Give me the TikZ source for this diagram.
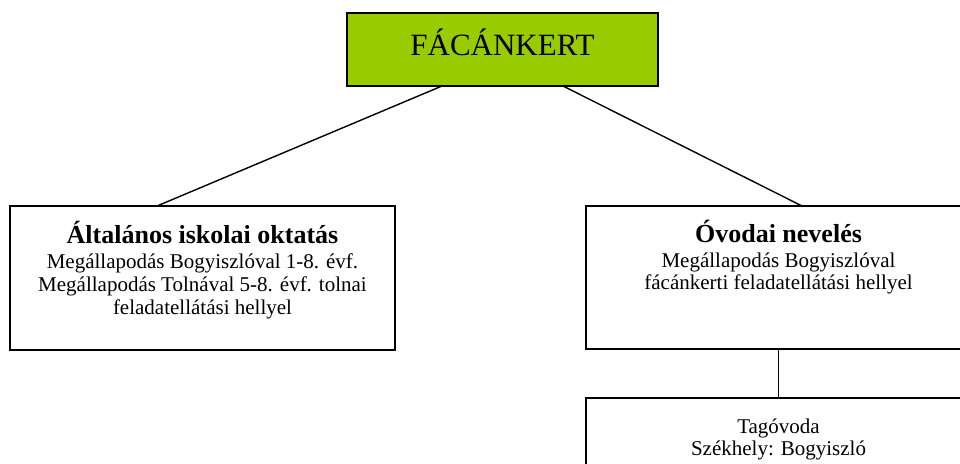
\documentclass[tikz,border=0pt]{standalone}
\usepackage{fontspec}
\setmainfont{Liberation Serif}
\definecolor{fcgreen}{RGB}{153,204,0}
\newcommand{\boxtext}[3]{\parbox[c][#2][t]{#1}{\centering #3}}
\begin{document}
\begin{tikzpicture}
  [
    x=1pt, y=-1pt,
    unitbox/.style={draw=black, line width=1.7pt, inner sep=0pt, outer sep=0pt},
    link/.style={line width=1.4pt}
  ]
  \useasboundingbox (0,0) rectangle (960,463);
  \clip (0,0) rectangle (960,463);
  % top
  \node [unitbox, fill=fcgreen] (top) at (502.5,49.5)
    {\boxtext{311pt}{73pt}{\fontsize{31}{31}\selectfont\rule{0pt}{42pt}FÁCÁNKERT}};
  % school
  \node [unitbox] (school) at (202.5,278)
    {\boxtext{385pt}{144pt}{%
      {\fontsize{26}{26}\selectfont\bfseries\rule{0pt}{37pt}Általános iskolai oktatás\par}
      \vspace{2pt}
      {\fontsize{21}{23}\selectfont Megállapodás Bogyiszlóval 1-8. évf.\\
      Megállapodás Tolnával 5-8. évf. tolnai\\
      feladatellátási hellyel\par}}};
  % kindergarten
  \node [unitbox] (kinder) at (778.5,277.5)
    {\boxtext{385pt}{143pt}{%
      {\fontsize{26}{26}\selectfont\bfseries\rule{0pt}{36pt}Óvodai nevelés\par}
      \vspace{3pt}
      {\fontsize{21}{22}\selectfont Megállapodás Bogyiszlóval\\
      fácánkerti feladatellátási hellyel\par}}};
  % member kindergarten
  \node [unitbox] (member) at (778.5,448)
    {\boxtext{385pt}{100pt}{%
      {\fontsize{21}{22}\selectfont\rule{0pt}{35pt}Tagóvoda\\
      Székhely: Bogyiszló\par}}};
  % links
  \draw [link] ([xshift=-60.5pt]top.south) -- ([xshift=-45.5pt]school.north);
  \draw [link] ([xshift=60.5pt]top.south) -- ([xshift=23.5pt]kinder.north);
  \draw [link] (kinder.south) -- (member.north);
\end{tikzpicture}
\end{document}
